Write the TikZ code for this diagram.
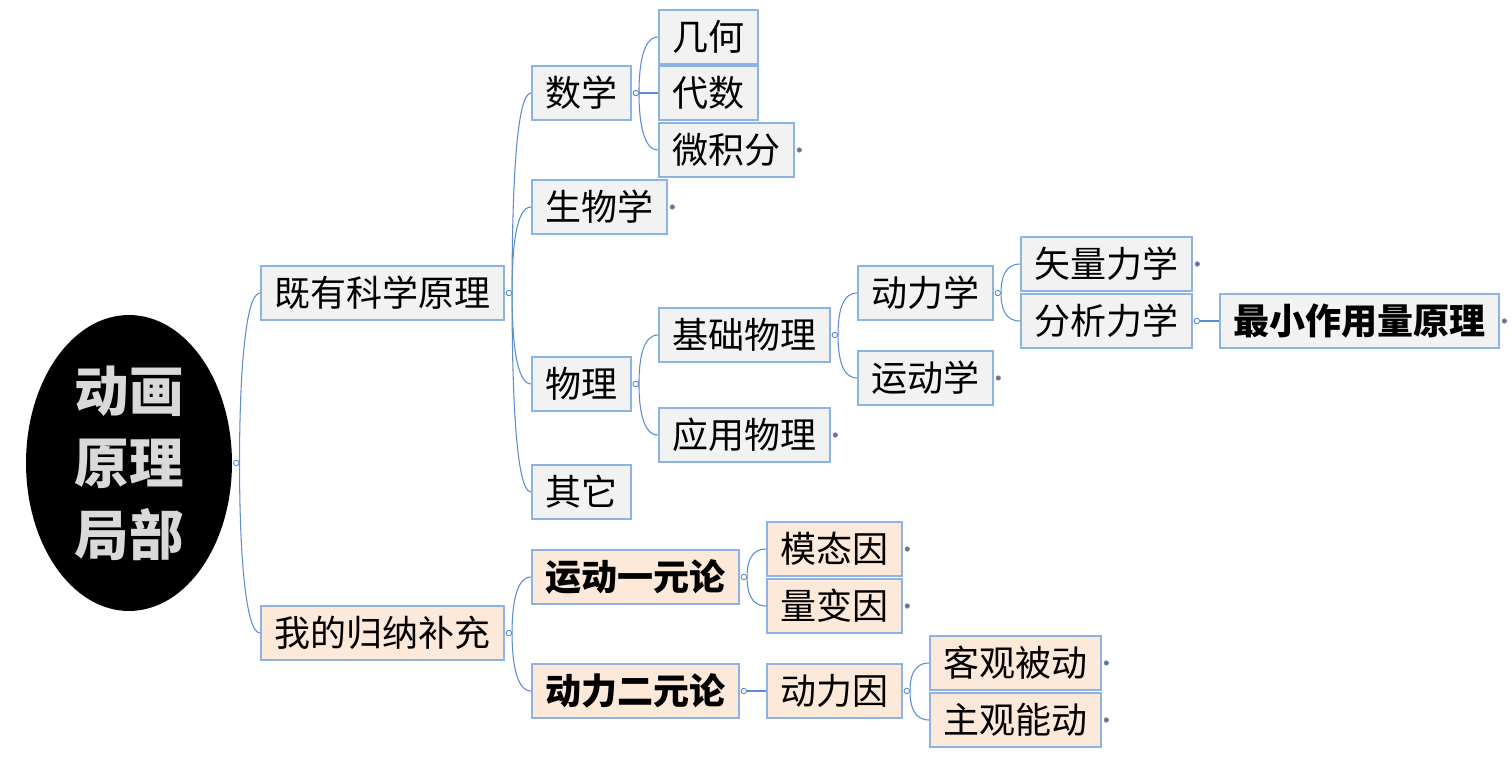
\documentclass[tikz,border=0pt]{standalone}
\usepackage{fontspec}
\usepackage{xcolor}
\usepackage{tikz}
\usetikzlibrary{positioning,shapes.geometric,backgrounds}
\setmainfont{Noto Sans CJK SC}
\definecolor{lineblue}{HTML}{5B8BD0}
\definecolor{boxline}{HTML}{8DB3E2}
\definecolor{dotblue}{HTML}{7A8FAE}
\definecolor{graybox}{HTML}{F2F2F2}
\definecolor{peachbox}{HTML}{FDE9D9}
\definecolor{roottext}{HTML}{D9D9D9}

\tikzset{
  topic/.style={draw=boxline, line width=1pt, fill=graybox, minimum height=1.08cm,
    inner xsep=0.27cm, inner ysep=0pt, font=\fontsize{20.5}{22}\selectfont, anchor=west},
  mine/.style={topic, fill=peachbox},
  strong/.style={font=\fontsize{20.5}{22}\selectfont\bfseries},
  knob/.style={circle, draw=lineblue, fill=white, line width=0.5pt, inner sep=0pt, minimum size=0.11cm},
  leafdot/.style={circle, draw=dotblue, fill=dotblue!80!black, line width=0.4pt, inner sep=0pt, minimum size=0.09cm},
  link/.style={draw=lineblue, line width=0.6pt},
  bup/.style={out=90, in=180, out distance=#1, in distance=0.3cm},
  bdown/.style={out=-90, in=180, out distance=#1, in distance=0.3cm},
}

\begin{document}
\begin{tikzpicture}[x=0.02cm,y=-0.02cm]
\useasboundingbox (0,0) rectangle (1512,760);

% root
\node[ellipse, fill=black, minimum width=4.12cm, minimum height=5.92cm, inner sep=0pt,
  text=roottext, align=center, font=\fontsize{31}{41}\selectfont\bfseries] (root) at (129,463) {动画\\原理\\局部};

% first level
\node[topic] (sci) at (260,293) {既有科学原理};
\node[mine] (ind) at (260,633) {我的归纳补充};

% science
\node[topic] (math) at (531,93) {数学};
\node[topic] (bio) at (531,207) {生物学};
\node[topic] (phys) at (531,384) {物理};
\node[topic] (other) at (531,492) {其它};

\node[topic] (geo) at (658,37) {几何};
\node[topic] (alg) at (658,93) {代数};
\node[topic] (calcu) at (658,150) {微积分};

\node[topic] (basic) at (658,335) {基础物理};
\node[topic] (applied) at (658,435) {应用物理};
\node[topic] (dyn) at (857,293) {动力学};
\node[topic] (kin) at (857,378) {运动学};
\node[topic] (vec) at (1020,264) {矢量力学};
\node[topic] (ana) at (1020,321) {分析力学};
\node[topic, strong] (least) at (1219,321) {最小作用量原理};

% own additions
\node[mine, strong] (mono) at (531,577) {运动一元论};
\node[mine, strong] (dual) at (531,691) {动力二元论};
\node[mine] (modal) at (766,549) {模态因};
\node[mine] (quant) at (766,606) {量变因};
\node[mine] (cause) at (766,691) {动力因};
\node[mine] (passive) at (929,663) {客观被动};
\node[mine] (active) at (929,720) {主观能动};

% knobs
\foreach \p in {root,sci,ind,math,phys,basic,dyn,ana,mono,dual,cause}
  \node[knob] (\p-k) at ([xshift=0.08cm]\p.east) {};
\foreach \p in {calcu,bio,vec,least,kin,applied,modal,quant,passive,active}
  \node[leafdot] (\p-d) at ([xshift=0.09cm]\p.east) {};

\begin{scope}[on background layer]
  \draw[link] (root-k.east) to[bup=1.7cm] (sci.west);
  \draw[link] (root-k.east) to[bdown=1.7cm] (ind.west);

  \draw[link] (sci-k.east) to[bup=2cm] (math.west);
  \draw[link] (sci-k.east) to[bup=0.9cm] (bio.west);
  \draw[link] (sci-k.east) to[bdown=0.9cm] (phys.west);
  \draw[link] (sci-k.east) to[bdown=2cm] (other.west);

  \draw[link] (math-k.east) to[bup=0.55cm] (geo.west);
  \draw[link] (math-k.east) -- (alg.west);
  \draw[link] (math-k.east) to[bdown=0.55cm] (calcu.west);

  \draw[link] (phys-k.east) to[bup=0.5cm] (basic.west);
  \draw[link] (phys-k.east) to[bdown=0.5cm] (applied.west);
  \draw[link] (basic-k.east) to[bup=0.45cm] (dyn.west);
  \draw[link] (basic-k.east) to[bdown=0.45cm] (kin.west);
  \draw[link] (dyn-k.east) to[bup=0.3cm] (vec.west);
  \draw[link] (dyn-k.east) to[bdown=0.3cm] (ana.west);
  \draw[link] (ana-k.east) -- (least.west);

  \draw[link] (ind-k.east) to[bup=0.55cm] (mono.west);
  \draw[link] (ind-k.east) to[bdown=0.55cm] (dual.west);
  \draw[link] (mono-k.east) to[bup=0.3cm] (modal.west);
  \draw[link] (mono-k.east) to[bdown=0.3cm] (quant.west);
  \draw[link] (dual-k.east) -- (cause.west);
  \draw[link] (cause-k.east) to[bup=0.3cm] (passive.west);
  \draw[link] (cause-k.east) to[bdown=0.3cm] (active.west);
\end{scope}
\end{tikzpicture}
\end{document}
